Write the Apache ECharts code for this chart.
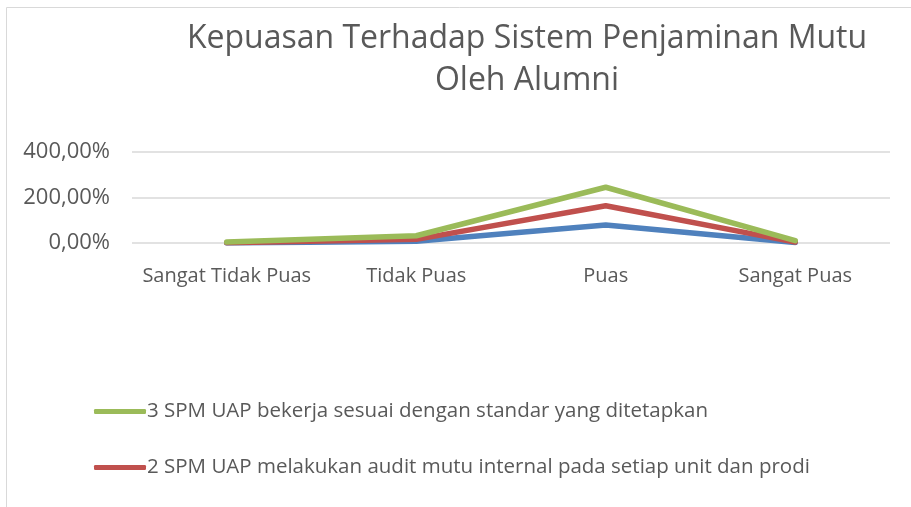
<!DOCTYPE html>
<html>
<head>
<meta charset="utf-8">
<script src="https://cdn.jsdelivr.net/npm/echarts@6/dist/echarts.min.js"></script>
<style>
  html, body { margin: 0; padding: 0; background: #fff; }
  #viz { width: 911px; height: 507px; }
</style>
</head>
<body>
<div id="viz"></div>
<script>
// categories and values (percent), series are stacked like the Excel original
var categories = ['Sangat Tidak Puas', 'Tidak Puas', 'Puas', 'Sangat Puas'];
var seriesNames = [
  '1 SPM UAP',
  '2 SPM UAP melakukan audit mutu internal pada setiap unit dan prodi',
  '3 SPM UAP bekerja sesuai dengan standar yang ditetapkan'
];
var blueValues  = [0, 8, 79, 2];
var redValues   = [1, 8, 85, 2];
var greenValues = [3, 16, 81, 6];
var yTicks = [0, 200, 400];

var colors = ['#4f81bd', '#c0504d', '#9bbb59'];
var fontName = '"Open Sans", sans-serif';

function plotrun() {
  var dom = document.getElementById('viz');
  var myChart = echarts.init(dom);

  var allValues = [blueValues, redValues, greenValues];
  var series = [];
  for (var i = 0; i < allValues.length; i++) {
    series.push({
      name: seriesNames[i],
      type: 'line',
      stack: 'total',
      data: allValues[i],
      showSymbol: false,
      symbol: 'none',
      lineStyle: { width: 5.5, color: colors[i], cap: 'round', join: 'round' },
      itemStyle: { color: colors[i] }
    });
  }

  var option = {
    animation: false,
    textStyle: { fontFamily: fontName },
    title: {
      text: 'Kepuasan Terhadap Sistem Penjaminan Mutu\nOleh Alumni',
      left: 522,
      top: 13,
      textAlign: 'center',
      textStyle: {
        fontFamily: fontName,
        fontSize: 32,
        fontWeight: 'normal',
        color: '#595959',
        lineHeight: 42,
        align: 'center'
      }
    },
    legend: {
      data: [seriesNames[2], seriesNames[1]],
      orient: 'vertical',
      left: 89,
      top: 396,
      itemGap: 35,
      itemWidth: 52,
      itemHeight: 5,
      icon: 'roundRect',
      textStyle: { fontFamily: fontName, fontSize: 20.5, color: '#595959', padding: [0, 0, 0, -4] }
    },
    grid: {
      left: 132,
      right: 21,
      top: 152,
      bottom: 264,
      containLabel: false
    },
    xAxis: {
      type: 'category',
      data: categories,
      boundaryGap: true,
      axisLine: { show: false },
      axisTick: { show: false },
      axisLabel: { fontFamily: fontName, fontSize: 20, color: '#595959', margin: 23, interval: 0, hideOverlap: false }
    },
    yAxis: {
      type: 'value',
      min: yTicks[0],
      max: yTicks[yTicks.length - 1],
      interval: yTicks[1] - yTicks[0],
      axisLine: { show: false },
      axisTick: { show: false },
      splitLine: { lineStyle: { color: '#d9d9d9', width: 1.5 } },
      axisLabel: {
        fontFamily: fontName,
        fontSize: 22,
        color: '#595959',
        margin: 22,
        formatter: function (v) {
          return v.toFixed(2).replace('.', ',') + '%';
        }
      }
    },
    graphic: [{
      type: 'rect',
      shape: { x: 6.5, y: 7.5, width: 1000, height: 600 },
      style: { fill: 'none', stroke: '#d9d9d9', lineWidth: 1 },
      silent: true
    }],
    series: series
  };

  myChart.setOption(option, true);
}

plotrun();
</script>
</body>
</html>
